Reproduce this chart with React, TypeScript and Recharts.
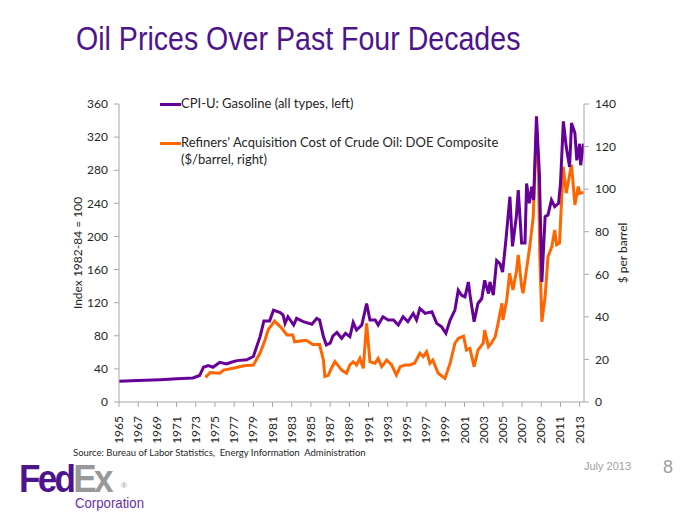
import React from "react";
import { LineChart, Line, XAxis, YAxis } from "recharts";

const PURPLE = "#660099";
const ORANGE = "#FF6600";
const AXIS_GREY = "#A6A6A6";
const TEXT = "#262626";
const FONT = "Lato, 'Open Sans', sans-serif";
const ARIAL = "'Liberation Sans', Arial, sans-serif";

// CPI-U: Gasoline (all types), index 1982-84 = 100, left axis
const gasYears = [
  1965, 1967, 1969.3, 1971, 1972.7, 1973.4, 1973.8, 1974.3, 1974.8, 1975.5,
  1976.2, 1976.7, 1977.3, 1978.3, 1979, 1979.35, 1979.7, 1980.1, 1980.7, 1981.1,
  1981.8, 1982.1, 1982.3, 1982.6, 1983.2, 1983.5, 1984.2, 1985.1, 1985.6, 1985.9,
  1986.3, 1986.6, 1987, 1987.3, 1987.7, 1988.2, 1988.6, 1989.06, 1989.4, 1989.75,
  1990.3, 1990.8, 1991.15, 1991.7, 1992, 1992.5, 1993.05, 1993.6, 1994.1, 1994.6,
  1995.1, 1995.65, 1996, 1996.35, 1996.9, 1997.6, 1998.1, 1998.6, 1999.06, 1999.5,
  2000, 2000.35, 2000.7, 2001.05, 2001.4, 2001.6, 2002, 2002.4, 2002.8, 2003.1,
  2003.5, 2003.65, 2004, 2004.35, 2004.7, 2004.97, 2005.3, 2005.73, 2006, 2006.4,
  2006.6, 2006.95, 2007.3, 2007.47, 2007.75, 2008, 2008.2, 2008.5, 2008.8, 2009.06,
  2009.4, 2009.7, 2010.06, 2010.4, 2010.8, 2011, 2011.3, 2011.6, 2011.95, 2012.15,
  2012.5, 2012.7, 2013, 2013.1, 2013.4,
];
const gasIndex = [
  25, 26, 27, 28, 29, 32, 42, 44, 42, 48,
  46, 48, 50, 51, 55, 67, 79, 98, 98, 111,
  108, 105, 95, 103, 93, 101, 97, 94, 101, 99,
  79, 69, 71, 80, 84, 77, 83, 79, 96, 87,
  93, 119, 99, 99, 93, 103, 99, 99, 93, 103,
  97, 107, 99, 113, 107, 109, 95, 91, 83, 99,
  111, 135, 129, 127, 145, 127, 97, 119, 125, 147,
  131, 145, 129, 171, 167, 157, 194, 248, 188, 224,
  256, 192, 192, 264, 240, 260, 244, 345, 276, 145,
  224, 226, 244, 236, 240, 264, 339, 308, 284, 337,
  325, 292, 312, 286, 312,
];

// Refiners' acquisition cost of crude oil, DOE composite, $/barrel, right axis
const crudeYears = [
  1974, 1974.5, 1975.5, 1975.9, 1977, 1978, 1979, 1979.7, 1980.2, 1980.55,
  1981.05, 1981.2, 1981.8, 1982.1, 1982.5, 1983.1, 1983.3, 1984.5, 1985.2, 1985.9,
  1986.3, 1986.45, 1986.8, 1987.15, 1987.5, 1987.85, 1988.2, 1988.7, 1989.06, 1989.4,
  1989.75, 1990.1, 1990.45, 1990.8, 1991.15, 1991.67, 1992, 1992.37, 1992.9, 1993.4,
  1993.9, 1994.3, 1994.8, 1995.3, 1995.8, 1996.35, 1996.7, 1997.05, 1997.4, 1997.7,
  1998.26, 1998.96, 1999.5, 2000, 2000.35, 2000.9, 2001.2, 2001.56, 2002, 2002.4,
  2002.95, 2003.1, 2003.5, 2003.8, 2004.2, 2004.5, 2004.9, 2005, 2005.4, 2005.7,
  2006.05, 2006.4, 2006.6, 2006.95, 2007.1, 2007.5, 2007.8, 2008.16, 2008.5, 2008.7,
  2008.85, 2009.06, 2009.4, 2009.7, 2010.1, 2010.4, 2010.6, 2010.9, 2011.28, 2011.6,
  2011.98, 2012.15, 2012.5, 2012.85, 2013, 2013.4,
];
const crudeCost = [
  11.6, 13.8, 13.5, 15, 16, 17, 17.4, 23, 29, 34,
  37, 38, 35.4, 33.8, 31.5, 31.5, 28.3, 29, 27, 27,
  19.7, 12, 12.5, 16, 19, 17, 15, 13.5, 17.4, 18.9,
  17.4, 20.5, 15.8, 37, 18.9, 18.2, 20.5, 16.6, 19.7, 17.4,
  12.7, 16.6, 17.4, 17.4, 18.2, 22.9, 21.3, 23.6, 18.2, 19.7,
  13.5, 11.1, 18.2, 27.6, 29.9, 31, 24.4, 25.2, 16.6, 24.4,
  27.6, 33.8, 26, 27.6, 30.7, 37, 46.4, 38.5, 47.9, 60.5,
  52.6, 61.2, 69.1, 54.2, 51.1, 63.6, 73, 87, 129.4, 110.6,
  68.3, 37.7, 49.5, 68.3, 73, 80.8, 73.8, 74.6, 110.6, 98.1,
  107.5, 111.4, 92.6, 101.2, 98, 98.5,
];

const yearTicks = [
  1965, 1967, 1969, 1971, 1973, 1975, 1977, 1979, 1981, 1983, 1985, 1987, 1989,
  1991, 1993, 1995, 1997, 1999, 2001, 2003, 2005, 2007, 2009, 2011, 2013,
];
const leftTicks = [0, 40, 80, 120, 160, 200, 240, 280, 320, 360];
const rightTicks = [0, 20, 40, 60, 80, 100, 120, 140];

const gasData = gasYears.map((year, i) => ({ year, v: gasIndex[i] }));
const crudeData = crudeYears.map((year, i) => ({ year, v: crudeCost[i] }));

const TICK_STYLE = { fontSize: 12, fill: TEXT, fontFamily: FONT };

// eslint-disable-next-line @typescript-eslint/no-explicit-any
function YearTick({ x, y, payload }: any) {
  return (
    <g transform={`translate(${x},${y})`}>
      <text transform="rotate(-90)" x={-7} y={0} dy={4} textAnchor="end" {...TICK_STYLE}>
        {payload.value}
      </text>
    </g>
  );
}

function LegendRow({ color, lines, top }: { color: string; lines: string[]; top: number }) {
  return (
    <div style={{ position: "absolute", left: 160, top, display: "flex", fontFamily: FONT, fontSize: 13, color: TEXT }}>
      <div style={{ width: 21, height: 3, background: color, marginTop: 8 }} />
      <div style={{ lineHeight: "17px" }}>
        {lines.map((l) => (
          <div key={l}>{l}</div>
        ))}
      </div>
    </div>
  );
}

export default function App() {
  return (
    <div style={{ position: "absolute", left: 0, top: 0, width: 700, height: 525, background: "#fff", overflow: "hidden" }}>
      <div style={{ position: "absolute", left: 76, top: 19, fontFamily: ARIAL, fontSize: 34, color: "#4D148C", whiteSpace: "nowrap", transform: "scaleX(0.84)", transformOrigin: "left top" }}>
        Oil Prices Over Past Four Decades
      </div>

      <div style={{ position: "absolute", left: 0, top: 0 }}>
        <LineChart width={700} height={450} margin={{ top: 104, right: 76, left: 69, bottom: 8 }}>
          <XAxis
            dataKey="year"
            type="number"
            domain={[1965, 2013.45]}
            ticks={yearTicks}
            interval={0}
            allowDataOverflow
            height={40}
            stroke={AXIS_GREY}
            tickSize={5}
            tick={<YearTick />}
          />
          <YAxis
            yAxisId="left"
            domain={[0, 360]}
            ticks={leftTicks}
            interval={0}
            width={50}
            stroke={AXIS_GREY}
            tickSize={5}
            tickMargin={6}
            tick={TICK_STYLE}
          />
          <YAxis
            yAxisId="right"
            orientation="right"
            domain={[0, 140]}
            ticks={rightTicks}
            interval={0}
            width={40}
            stroke={AXIS_GREY}
            tickSize={5}
            tickMargin={6}
            tick={TICK_STYLE}
          />
          <Line
            yAxisId="right"
            data={crudeData}
            dataKey="v"
            type="linear"
            stroke={ORANGE}
            strokeWidth={3}
            dot={false}
            isAnimationActive={false}
          />
          <Line
            yAxisId="left"
            data={gasData}
            dataKey="v"
            type="linear"
            stroke={PURPLE}
            strokeWidth={3}
            dot={false}
            isAnimationActive={false}
          />
        </LineChart>
      </div>

      <div style={{ position: "absolute", left: 77, top: 253, transform: "translate(-50%, -50%) rotate(-90deg)", fontFamily: FONT, fontSize: 12, color: TEXT, whiteSpace: "nowrap" }}>
        Index 1982-84 = 100
      </div>
      <div style={{ position: "absolute", left: 622, top: 253, transform: "translate(-50%, -50%) rotate(-90deg)", fontFamily: FONT, fontSize: 12, color: TEXT, whiteSpace: "nowrap" }}>
        $ per barrel
      </div>

      <LegendRow color={PURPLE} lines={["CPI-U: Gasoline (all types, left)"]} top={95} />
      <LegendRow color={ORANGE} lines={["Refiners' Acquisition Cost of Crude Oil: DOE Composite", "($/barrel, right)"]} top={134} />

      <div style={{ position: "absolute", left: 73, top: 447, fontFamily: FONT, fontSize: 9.5, lineHeight: "12px", color: TEXT, whiteSpace: "pre" }}>
        {"Source: Bureau of Labor Statistics,  Energy Information  Administration"}
      </div>

      <div style={{ position: "absolute", left: 19, top: 465, fontFamily: ARIAL, fontWeight: 900, fontSize: 39, lineHeight: "28px", letterSpacing: -3, whiteSpace: "nowrap", transform: "scaleX(0.9)", transformOrigin: "left top" }}>
        <span style={{ color: "#4D148C" }}>Fed</span>
        <span style={{ color: "#999999" }}>Ex</span>
      </div>
      <div style={{ position: "absolute", left: 121, top: 481, fontFamily: ARIAL, fontSize: 8, color: "#999" }}>®</div>
      <div style={{ position: "absolute", left: 75, top: 496, fontFamily: ARIAL, fontSize: 15, lineHeight: "14px", color: "#6B2FA8", whiteSpace: "nowrap", transform: "scaleX(0.88)", transformOrigin: "left top" }}>
        Corporation
      </div>

      <div style={{ position: "absolute", left: 584, top: 460, fontFamily: ARIAL, fontSize: 11, color: "#A0A0A0" }}>
        July 2013
      </div>
      <div style={{ position: "absolute", left: 663, top: 457, fontFamily: ARIAL, fontSize: 18, color: "#A0A0A0" }}>
        8
      </div>
    </div>
  );
}
